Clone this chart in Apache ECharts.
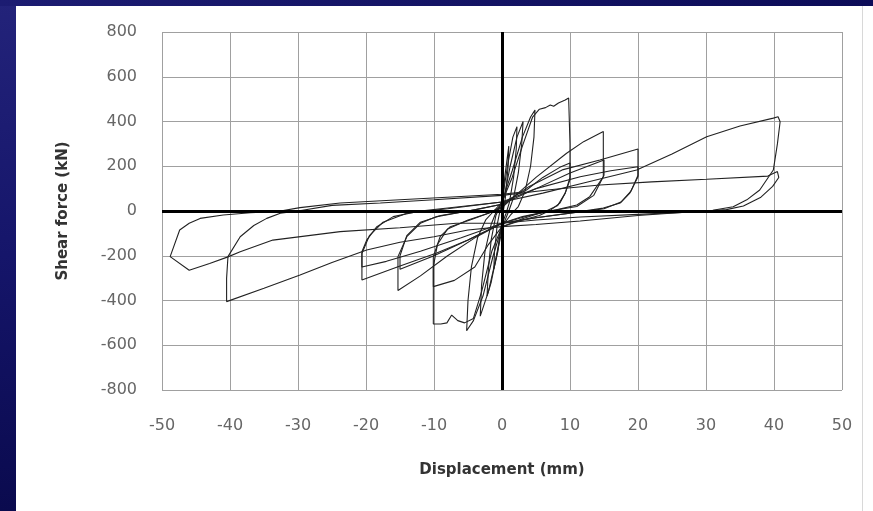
<!DOCTYPE html>
<html><head><meta charset="utf-8">
<script src="https://cdn.jsdelivr.net/npm/echarts@6/dist/echarts.min.js"></script>
<style>html,body{margin:0;padding:0;background:#fff;}#c{width:873px;height:511px;}</style>
</head><body><div id="c"></div>
<script>
// Axis ticks
var xTicks = [-50,-40,-30,-20,-10,0,10,20,30,40,50];
var yTicks = [-800,-600,-400,-200,0,200,400,600,800];

// Hysteresis cycles [displacement mm, shear kN]
var cyc1 = [[0,0],[0.4,150],[1.0,290],[0.9,200],[0.5,60],[0.2,0],[-0.2,-80],[-0.6,-180],[-1.2,-260],[-1.1,-180],[-0.7,-60],[-0.3,0],[0,40]];
var cyc2 = [[0,40],[0.8,200],[1.6,330],[2.2,377],[2.1,280],[1.7,150],[1.1,40],[0.6,-10],[0,-60],[-0.8,-200],[-1.6,-320],[-2.2,-380],[-2.0,-260],[-1.6,-130],[-0.9,-20],[-0.3,20],[0.3,60]];
var cyc3 = [[0.3,60],[1.2,200],[2.2,330],[3.1,400],[2.9,300],[2.4,170],[1.7,60],[1.0,0],[0.2,-60],[-0.8,-200],[-2,-360],[-3.2,-470],[-3.0,-330],[-2.5,-180],[-1.6,-60],[-0.8,0],[0,40]];
var cyc5 = [[0,40],[1.5,180],[3,330],[4.2,420],[4.85,451],[4.7,330],[4.2,200],[3.4,90],[2.4,20],[1.2,-20],[0,-70],[-1.3,-200],[-2.8,-380],[-4.2,-490],[-5.2,-535],[-5,-400],[-4.5,-250],[-3.6,-120],[-2.4,-40],[-1.2,0],[0,40]];
var cyc10 = [[0,40],[1.5,150],[3,290],[4.5,420],[5.5,455],[6.4,462],[7.1,474],[7.6,468],[8.3,483],[9.3,496],[9.8,505],[10,500],[10,300],[10,140],[9.3,80],[8.5,35],[7.2,5],[5.5,-20],[3,-40],[0,-70],[-1.5,-180],[-3,-360],[-4.2,-480],[-5.5,-500],[-6.5,-490],[-7.4,-465],[-8.1,-500],[-9,-505],[-10.1,-505],[-10.1,-350],[-10.1,-204],[-9.1,-115],[-7.6,-70],[-4.7,-40],[-2,-10],[0,20]];
var cyc10b = [[0,20],[2,70],[3.6,94],[6,150],[8.5,195],[10,215],[10,150],[9.3,80],[8.2,25],[6.5,0],[3,-35],[0,-70],[-2,-150],[-4,-250],[-7,-310],[-10.1,-338],[-10.1,-250],[-9.5,-150],[-8,-80],[-5,-40],[-2,-10],[0,15]];
var cyc15 = [[0,15],[2,70],[5,150],[9.5,258],[12,310],[14.9,355],[14.9,250],[14.9,153],[12.9,64],[11,27],[8,5],[4,-20],[0,-55],[-4,-120],[-8,-200],[-12,-290],[-15.3,-355],[-15.3,-280],[-15.3,-204],[-14,-115],[-12,-55],[-9.6,-25],[-5,0],[0,30]];
var cyc15b = [[0,30],[5,100],[10,170],[15,228],[15,160],[13.5,70],[11,20],[7,0],[3,-25],[0,-55],[-5,-130],[-10,-200],[-15,-260],[-15,-200],[-14,-110],[-12,-50],[-9,-20],[-4,5],[0,30]];
var cyc20 = [[0,30],[4,110],[9,185],[14.4,228],[20,277],[20,200],[20,153],[18.8,80],[17.4,36],[14.9,13],[11,-5],[5,-30],[0,-55],[-5,-130],[-9.6,-188],[-15.3,-249],[-20.6,-308],[-20.6,-250],[-20.6,-182],[-19.9,-130],[-18.4,-70],[-16,-25],[-12,0],[-6,20],[0,40]];
var cyc20b = [[0,40],[5,100],[11.5,153],[16,180],[20,198],[20,160],[19,90],[17.5,40],[15,10],[10,-10],[5,-30],[0,-55],[-6,-120],[-12,-180],[-17,-225],[-20.6,-250],[-20.6,-190],[-19.5,-110],[-17.5,-50],[-14,-10],[-8,10],[0,40]];
var cyc40 = [[0,40],[6,80],[12,125],[19.8,183],[25,255],[30.1,332],[35,380],[39.9,415],[40.6,421],[40.9,399],[40.5,300],[39.9,183],[37.9,94],[36,50],[34,19],[31,3],[28,-3],[20,-20],[11.5,-45],[5,-60],[0,-70],[-5,-85],[-10,-115],[-15,-140],[-19.9,-174],[-25,-230],[-29.7,-286],[-35,-345],[-40.5,-405],[-40.5,-300],[-40.3,-204],[-38.5,-115],[-36.5,-65],[-34.6,-33],[-32.6,-10],[-30,0]];
var cyc40b = [[-30,0],[-25,25],[-17.9,36],[-10,50],[0,70],[7,95],[14.4,116],[22,130],[30.1,142],[39.1,156],[40.5,176],[40.7,150],[39.8,110],[38,60],[35.5,22],[33,6],[29,-3],[20,-15],[11.5,-27],[5,-40],[0,-55],[-6.7,-55],[-15,-75],[-23.8,-92],[-33.7,-130],[-38.5,-182],[-40.3,-205],[-43,-235],[-46,-265],[-48.8,-204],[-47.4,-85],[-46,-55],[-44.4,-33],[-41,-18],[-37,-8],[-33,-2]];
var cycEnd = [[-33,-2],[-29.7,15],[-23.8,36],[-15,50],[-6.7,64],[0,75],[3,85]];

var cycles = [cyc1,cyc2,cyc3,cyc5,cyc10,cyc10b,cyc15,cyc15b,cyc20,cyc20b,cyc40,cyc40b,cycEnd];

var series = cycles.map(function(d, i){
  var s = {type:'line', data:d, showSymbol:false, symbol:'none', smooth:false,
    lineStyle:{color:'#222', width:1.1}, z:3, silent:true};
  if(i===0){
    s.markLine = {silent:true, symbol:['none','none'], label:{show:false},
      lineStyle:{color:'#000', width:3, type:'solid'},
      data:[{xAxis:0},{yAxis:0}], z:4};
  }
  return s;
});

var chart = echarts.init(document.getElementById('c'), null, {renderer:'canvas'});
chart.setOption({
  animation:false,
  backgroundColor:'#fff',
  graphic:[
    {type:'rect', shape:{x:0,y:0,width:16,height:511}, z:-10,
     style:{fill:{type:'linear',x:0,y:0,x2:0,y2:1,colorStops:[{offset:0,color:'#23237a'},{offset:0.5,color:'#15156a'},{offset:1,color:'#0a0a4e'}]}}},
    {type:'rect', shape:{x:0,y:0,width:873,height:6}, z:-10,
     style:{fill:{type:'linear',x:0,y:0,x2:1,y2:0,colorStops:[{offset:0,color:'#1c1c72'},{offset:1,color:'#0c0c58'}]}}},
    {type:'line', shape:{x1:862.5,y1:6,x2:862.5,y2:511}, z:-10, style:{stroke:'#d8d8d8', lineWidth:1}}
  ],
  grid:{left:162, right:31, top:32, bottom:121},
  xAxis:{type:'value', min:-50, max:50, interval:10,
    name:'Displacement (mm)', nameLocation:'middle', nameGap:73,
    nameTextStyle:{fontFamily:'DejaVu Sans', fontSize:15, fontWeight:'bold', color:'#333'},
    axisLine:{show:false, onZero:false}, axisTick:{show:false},
    axisLabel:{margin:28, fontFamily:'DejaVu Sans', fontSize:16, color:'#666',
      formatter:function(v){return xTicks.indexOf(v)>=0? String(v):'';}},
    splitLine:{show:true, lineStyle:{color:'#a0a0a0', width:1}}},
  yAxis:{type:'value', min:-800, max:800, interval:200,
    name:'Shear force (kN)', nameLocation:'middle', nameGap:91,
    nameTextStyle:{fontFamily:'DejaVu Sans', fontSize:15, fontWeight:'bold', color:'#333'},
    axisLine:{show:false, onZero:false}, axisTick:{show:false},
    axisLabel:{margin:25, fontFamily:'DejaVu Sans', fontSize:16, color:'#666',
      formatter:function(v){return yTicks.indexOf(v)>=0? String(v):'';}},
    splitLine:{show:true, lineStyle:{color:'#a0a0a0', width:1}}},
  series:series
});
</script></body></html>
